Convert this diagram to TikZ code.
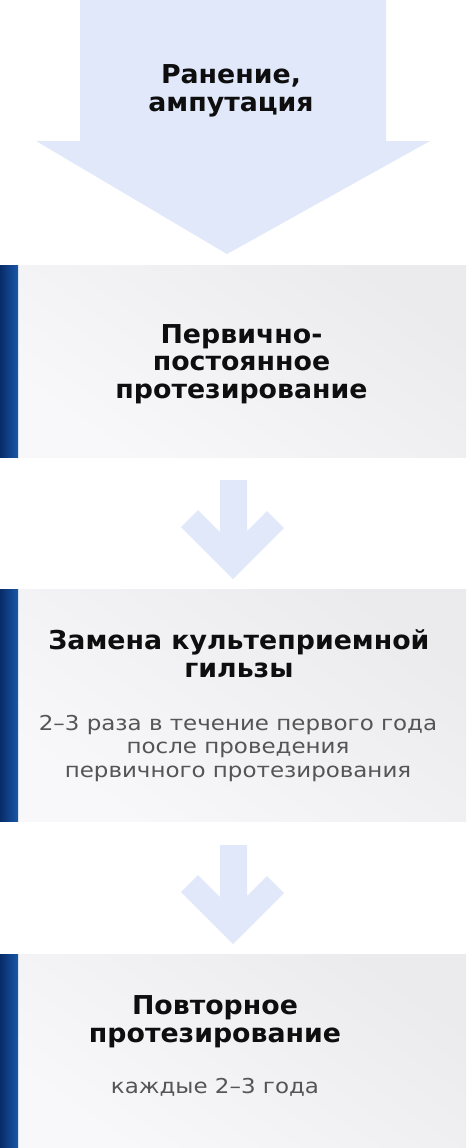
\documentclass[tikz,border=0pt]{standalone}
\usepackage{fontspec}
\newfontfamily\titlefont[FakeStretch=1.03]{DejaVu Sans}
\newfontfamily\subfont[FakeStretch=1.12]{DejaVu Sans}
\definecolor{arrowblue}{HTML}{E0E8FA}
\definecolor{boxA}{HTML}{EBEBEE}
\definecolor{boxB}{HTML}{F8F8FA}
\definecolor{barA}{HTML}{082C68}
\definecolor{barB}{HTML}{1858A8}
\definecolor{titlec}{HTML}{0E0E0E}
\definecolor{subc}{HTML}{555555}
\tikzset{
  arrowshape/.style={fill=arrowblue, draw=none},
  boxshape/.style={top color=boxA, bottom color=boxB, shading angle=-35, draw=none},
  barshape/.style={left color=barA, right color=barB, draw=none},
  titletext/.style={align=center, text=titlec, inner sep=0pt, anchor=base,
    font=\titlefont\bfseries\fontsize{26}{27.5}\selectfont},
  subtext/.style={align=center, text=subc, inner sep=0pt, anchor=base,
    font=\subfont\fontsize{20.5}{23.5}\selectfont}
}
\begin{document}
\begin{tikzpicture}[x=1pt,y=-1pt]
\useasboundingbox (0,0) rectangle (467,1148);
\fill[white] (0,0) rectangle (467,1148);
% big arrow
\path[arrowshape] (80,0) -- (386,0) -- (386,141) -- (430,141) -- (227,254) -- (36,141) -- (80,141) -- cycle;
% boxes
\shade[boxshape] (18,265) rectangle (466,457);
\shade[barshape] (0,265) rectangle (18,457);
\shade[boxshape] (18,589) rectangle (466,821);
\shade[barshape] (0,589) rectangle (18,821);
\shade[boxshape] (18,954) rectangle (466,1148);
\shade[barshape] (0,954) rectangle (18,1148);
% small arrows
\foreach \dy in {0,365}{
  \path[arrowshape, yshift=-\dy pt] (220,480) -- (247,480) -- (247,531) -- (267,511) -- (284,528) -- (233,579) -- (181,527) -- (198,510) -- (220,532) -- cycle;
}
% texts (anchor=base is the baseline of the last line)
\node[titletext] (t0) at (231,111) {Ранение,\\ампутация};
\node[titletext] (t1) at (241.5,398) {Первично-\\постоянное\\протезирование};
\node[titletext] (t2) at (239,677) {Замена культеприемной\\гильзы};
\node[subtext] (s2) at (238,777) {2–3 раза в течение первого года\\после проведения\\первичного протезирования};
\node[titletext] (t3) at (215,1042) {Повторное\\протезирование};
\node[subtext] (s3) at (215,1093) {каждые 2–3 года};
\end{tikzpicture}
\end{document}
